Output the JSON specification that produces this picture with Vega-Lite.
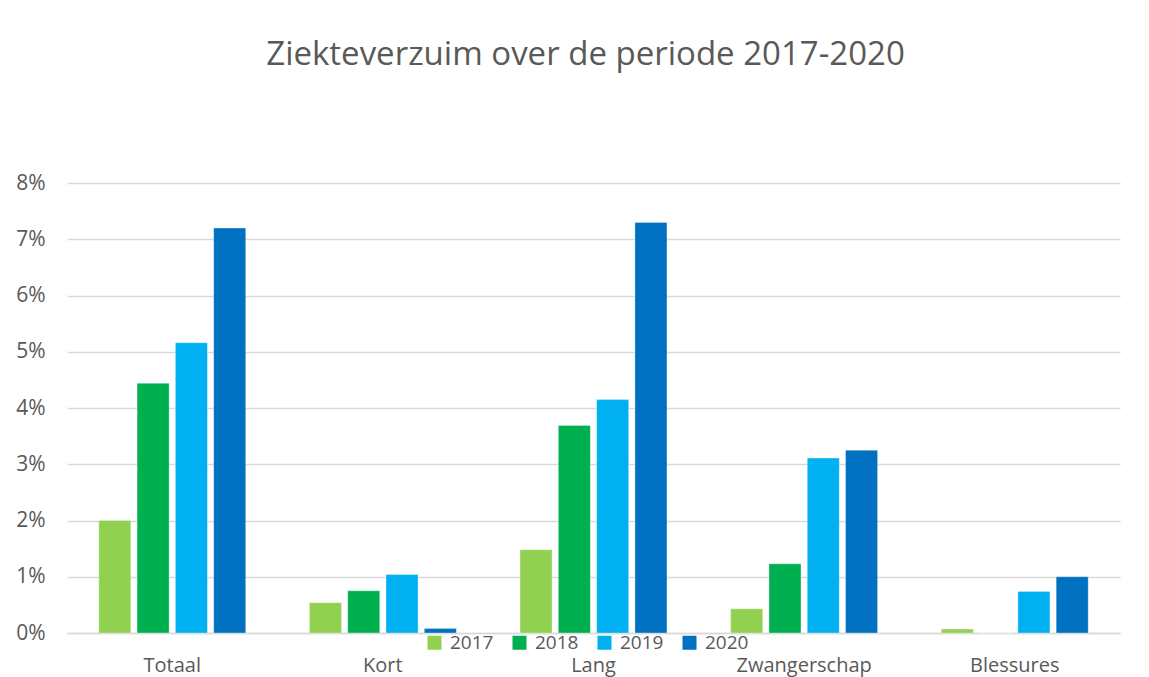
{
  "$schema": "https://vega.github.io/schema/vega-lite/v6.json",
  "width": 1053,
  "height": 450,
  "autosize": {"type": "none"},
  "padding": {"left": 67, "top": 183, "right": 29, "bottom": 44},
  "background": "white",
  "title": {
    "text": "Ziekteverzuim over de periode 2017-2020",
    "font": "Open Sans",
    "fontSize": 33,
    "fontWeight": "normal",
    "color": "#595959",
    "offset": 100,
    "dx": -8
  },
  "data": {
    "values": [
      {"categorie": "Totaal", "jaar": "2017", "verzuim": 0.0200},
      {"categorie": "Totaal", "jaar": "2018", "verzuim": 0.0444},
      {"categorie": "Totaal", "jaar": "2019", "verzuim": 0.0516},
      {"categorie": "Totaal", "jaar": "2020", "verzuim": 0.0720},
      {"categorie": "Kort", "jaar": "2017", "verzuim": 0.0054},
      {"categorie": "Kort", "jaar": "2018", "verzuim": 0.0075},
      {"categorie": "Kort", "jaar": "2019", "verzuim": 0.0104},
      {"categorie": "Kort", "jaar": "2020", "verzuim": 0.0008},
      {"categorie": "Lang", "jaar": "2017", "verzuim": 0.0148},
      {"categorie": "Lang", "jaar": "2018", "verzuim": 0.0369},
      {"categorie": "Lang", "jaar": "2019", "verzuim": 0.0415},
      {"categorie": "Lang", "jaar": "2020", "verzuim": 0.0730},
      {"categorie": "Zwangerschap", "jaar": "2017", "verzuim": 0.0043},
      {"categorie": "Zwangerschap", "jaar": "2018", "verzuim": 0.0123},
      {"categorie": "Zwangerschap", "jaar": "2019", "verzuim": 0.0311},
      {"categorie": "Zwangerschap", "jaar": "2020", "verzuim": 0.0325},
      {"categorie": "Blessures", "jaar": "2017", "verzuim": 0.0007},
      {"categorie": "Blessures", "jaar": "2018", "verzuim": 0.0},
      {"categorie": "Blessures", "jaar": "2019", "verzuim": 0.0074},
      {"categorie": "Blessures", "jaar": "2020", "verzuim": 0.0100}
    ]
  },
  "mark": {"type": "bar", "stroke": "#ffffff", "strokeOpacity": 0.4, "strokeWidth": 0.8},
  "encoding": {
    "x": {
      "field": "categorie",
      "type": "nominal",
      "sort": ["Totaal", "Kort", "Lang", "Zwangerschap", "Blessures"],
      "scale": {"paddingInner": 0.3025, "paddingOuter": 0.151},
      "axis": {
        "title": null,
        "labelAngle": 0,
        "ticks": false,
        "labelPadding": 22,
        "labelFont": "Open Sans",
        "labelFontSize": 20,
        "labelColor": "#595959",
        "domainColor": "#d9d9d9",
        "domainWidth": 1.5
      }
    },
    "xOffset": {
      "field": "jaar",
      "type": "nominal",
      "sort": ["2017", "2018", "2019", "2020"],
      "scale": {"paddingInner": 0.164, "paddingOuter": 0}
    },
    "y": {
      "field": "verzuim",
      "type": "quantitative",
      "scale": {"domain": [0, 0.08], "nice": false},
      "axis": {
        "title": null,
        "values": [0, 0.01, 0.02, 0.03, 0.04, 0.05, 0.06, 0.07, 0.08],
        "format": ".0%",
        "ticks": false,
        "domain": false,
        "labelPadding": 22,
        "labelFont": "Open Sans",
        "labelFontSize": 21,
        "labelColor": "#595959",
        "gridColor": "#d9d9d9",
        "gridWidth": 1.5
      }
    },
    "color": {
      "field": "jaar",
      "type": "nominal",
      "scale": {
        "domain": ["2017", "2018", "2019", "2020"],
        "range": ["#92D050", "#00B050", "#00B0F0", "#0070C0"]
      },
      "legend": {
        "title": null,
        "orient": "none",
        "direction": "horizontal",
        "legendX": 358,
        "legendY": 450,
        "symbolType": "square",
        "symbolSize": 196,
        "symbolStrokeWidth": 0,
        "labelFont": "Open Sans",
        "labelFontSize": 19,
        "labelColor": "#595959",
        "labelOffset": 6,
        "columnPadding": 16
      }
    }
  },
  "config": {"view": {"stroke": null}}
}
